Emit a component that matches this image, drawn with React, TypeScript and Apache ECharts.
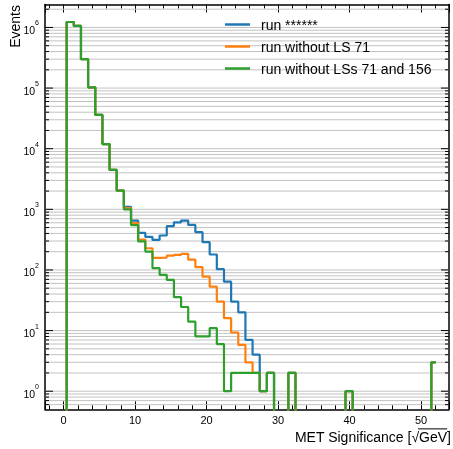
import React, { useEffect, useRef } from "react";
import * as echarts from "echarts";

// ---- histogram definition ----
const binStart = 0.43;
const binWidth = 1;
const lastEdge = 52.05;

// ---- bin contents ----
const runAll = [
  1.23e6, 1.06e6, 3.0e5, 1.03e5, 3.6e4, 1.19e4, 4470, 2040, 1100, 650,
  410, 350, 313, 370, 530, 610, 652, 553, 420, 287,
  180, 103, 64, 30, 20, 7, 4, 1, 2, 0,
  0, 2, 0, 0, 0, 0, 0, 0, 0, 1,
  0, 0, 0, 0, 0, 0, 0, 0, 0, 0,
  0, 3,
];
const runNo71 = [
  1.23e6, 1.06e6, 3.0e5, 1.03e5, 3.6e4, 1.19e4, 4470, 2040, 1050, 590,
  317, 228, 158, 160, 172, 177, 184, 148, 111, 77.6,
  53, 30, 16, 9.3, 5.8, 3, 2, 1, 2, 0,
  0, 2, 0, 0, 0, 0, 0, 0, 0, 1,
  0, 0, 0, 0, 0, 0, 0, 0, 0, 0,
  0, 3,
];
const runNo71And156 = [
  1.23e6, 1.06e6, 3.0e5, 1.03e5, 3.6e4, 1.19e4, 4470, 2040, 1000, 550,
  295, 201, 107, 83, 68.6, 35.5, 24.5, 14, 8, 8,
  11, 6, 1, 2, 2, 2, 2, 1, 2, 0,
  0, 2, 0, 0, 0, 0, 0, 0, 0, 1,
  0, 0, 0, 0, 0, 0, 0, 0, 0, 0,
  0, 3,
];

const seriesNames = ["run ******", "run without LS 71", "run without LSs 71 and 156"];
const seriesColors = ["#1f77b4", "#ff7f0e", "#2ca02c"];
const xTickLabels = [0, 10, 20, 30, 40, 50];
const yDecades = [-1, 0, 1, 2, 3, 4, 5, 6];
const mantissas = [1, 2, 3, 4, 5, 6, 7, 8, 9];

const X_MIN = -2.6;
const X_MAX = 53.9;
const Y_MIN = 0.503;
const Y_MAX = 2.39e6;
const FLOOR = 1e-3;

const FONT = '"Liberation Sans", Arial, Helvetica, sans-serif';

function stepPoints(values: number[]): number[][] {
  const pts: number[][] = [[binStart, FLOOR]];
  values.forEach((v, i) => pts.push([binStart + i * binWidth, v > 0 ? v : FLOOR]));
  const last = values[values.length - 1];
  pts.push([lastEdge, last > 0 ? last : FLOOR]);
  return pts;
}

function isPow10(v: number) {
  const l = Math.log10(v);
  return Math.abs(l - Math.round(l)) < 1e-7;
}

function measure(text: string, size: number) {
  const c = document.createElement("canvas").getContext("2d");
  if (!c) return text.length * size * 0.55;
  c.font = `${size}px "Liberation Sans"`;
  return c.measureText(text).width;
}

export default function App() {
  const ref = useRef<HTMLDivElement>(null);
  useEffect(() => {
    if (!ref.current) return;
    const chart = echarts.init(ref.current, undefined, { renderer: "svg" });

    const gridValues: number[][] = [];
    yDecades.forEach((d) =>
      mantissas.forEach((m) => {
        const v = m * Math.pow(10, d);
        if (v > Y_MIN && v < Y_MAX) gridValues.push([X_MIN, v]);
      })
    );

    const titleSize = 14;
    const titleText = "MET Significance [\u221AGeV]";
    const titleRight = 451;
    const titleY = 437;
    const wTail = measure("\u221AGeV]", titleSize);
    const wRad = measure("\u221A", titleSize);
    const wBr = measure("]", titleSize);

    const xAxisCommon = {
      type: "value" as const,
      min: X_MIN,
      max: X_MAX,
      axisLine: { show: true, onZero: false, lineStyle: { color: "#000", width: 1.5 } },
      axisTick: { show: true, inside: true, length: 8, lineStyle: { color: "#000", width: 1 } },
      minorTick: { show: true, splitNumber: 5, length: 4, lineStyle: { color: "#000", width: 1 } },
      splitLine: { show: false },
    };

    const yAxisCommon = {
      type: "log" as const,
      logBase: 10,
      min: Y_MIN,
      max: Y_MAX,
      axisLine: { show: true, onZero: false, lineStyle: { color: "#000", width: 1.5 } },
      axisTick: { show: false },
      splitLine: { show: false },
    };

    const lineSeries = [runAll, runNo71, runNo71And156].map((vals, i) => ({
      name: seriesNames[i],
      type: "line" as const,
      step: "end" as const,
      data: stepPoints(vals),
      showSymbol: false,
      symbol: "none",
      lineStyle: { color: seriesColors[i], width: 2.2 },
      itemStyle: { color: seriesColors[i] },
      clip: true,
      z: 3 + i,
    }));

    chart.setOption({
      animation: false,
      grid: { left: 45, right: 4, top: 4.5, bottom: 39.7, containLabel: false },
      xAxis: [
        {
          ...xAxisCommon,
          position: "bottom",
          axisLabel: {
            show: true,
            color: "#000",
            fontFamily: FONT,
            fontSize: 11,
            margin: 5,
            formatter: (v: number) =>
              xTickLabels.some((t) => Math.abs(t - v) < 1e-6) ? String(Math.round(v)) : "",
          },
        },
        { ...xAxisCommon, position: "top", axisLabel: { show: false } },
      ],
      yAxis: [
        {
          ...yAxisCommon,
          position: "left",
          axisLabel: {
            show: true,
            margin: 6,
            color: "#000",
            fontFamily: FONT,
            formatter: (v: number) =>
              isPow10(v) ? `{b|10}{s|${Math.round(Math.log10(v))}}` : "",
            rich: {
              b: { fontSize: 10.5, fontFamily: FONT, color: "#000", lineHeight: 16, verticalAlign: "bottom" },
              s: { fontSize: 7, fontFamily: FONT, color: "#000", lineHeight: 16, verticalAlign: "top" },
            },
          },
        },
        { ...yAxisCommon, position: "right", axisLabel: { show: false } },
      ],
      legend: {
        show: true,
        orient: "vertical",
        left: 220,
        top: 11.5,
        itemWidth: 25,
        itemHeight: 2.5,
        itemGap: 6,
        icon: "rect",
        data: seriesNames,
        textStyle: { fontFamily: FONT, fontSize: 14, color: "#000", lineHeight: 16, padding: [0, 0, 0, 6] },
      },
      series: [
        {
          type: "custom",
          name: "grid",
          xAxisIndex: 0,
          yAxisIndex: 0,
          z: 1,
          silent: true,
          encode: { x: 0, y: 1 },
          data: gridValues,
          renderItem: (params: any, api: any) => {
            const v = api.value(1);
            const pt = api.coord([X_MIN, v]);
            const cs = params.coordSys;
            const y = pt[1];
            const len = isPow10(v) ? 8 : 4;
            return {
              type: "group",
              children: [
                { type: "line", shape: { x1: cs.x, y1: y, x2: cs.x + cs.width, y2: y }, style: { stroke: "#c2c2c2", lineWidth: 1 } },
                { type: "line", shape: { x1: cs.x, y1: y, x2: cs.x + len, y2: y }, style: { stroke: "#000", lineWidth: 1 } },
                { type: "line", shape: { x1: cs.x + cs.width - len, y1: y, x2: cs.x + cs.width, y2: y }, style: { stroke: "#000", lineWidth: 1 } },
              ],
            };
          },
        },
        ...lineSeries,
      ],
      graphic: [
        {
          type: "text",
          x: titleRight,
          y: titleY,
          style: { text: titleText, font: `${titleSize}px ${FONT}`, fill: "#000", textAlign: "right", textVerticalAlign: "middle" },
        },
        {
          type: "line",
          shape: {
            x1: titleRight - wTail + wRad * 0.85,
            y1: titleY - titleSize * 0.58,
            x2: titleRight - wBr,
            y2: titleY - titleSize * 0.58,
          },
          style: { stroke: "#000", lineWidth: 1 },
        },
        {
          type: "text",
          x: 15,
          y: 5,
          rotation: Math.PI / 2,
          style: { text: "Events", font: `${titleSize}px ${FONT}`, fill: "#000", textAlign: "right", textVerticalAlign: "middle" },
        },
      ],
    });
    return () => chart.dispose();
  }, []);
  return <div ref={ref} style={{ position: "fixed", left: 0, top: 0, width: 453, height: 449 }} />;
}
